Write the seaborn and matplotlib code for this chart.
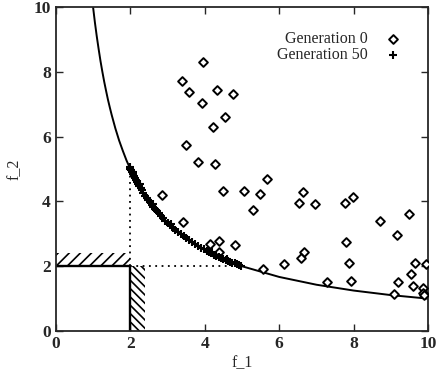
import matplotlib
matplotlib.use("Agg")
import matplotlib.pyplot as plt
import seaborn as sns
import pandas as pd
from matplotlib.patches import Rectangle

# === Datos ===
gen0_f1 = [3.96, 3.39, 3.57, 4.34, 4.75, 3.92, 4.55, 4.23, 3.49, 3.82, 4.28,
           5.66, 2.86, 4.49, 5.05, 5.48, 5.30, 3.42, 4.37, 4.14, 4.81, 4.37,
           5.56, 6.63, 6.54, 6.96, 7.76, 7.98, 8.71, 9.48, 9.17, 7.80, 6.67,
           6.59, 7.87, 6.13, 9.66, 9.94, 9.53, 7.27, 7.92, 9.18, 9.58, 9.85,
           9.08, 9.85, 9.90]
gen0_f2 = [8.29, 7.72, 7.38, 7.44, 7.31, 7.03, 6.60, 6.30, 5.74, 5.22, 5.14,
           4.68, 4.19, 4.33, 4.33, 4.22, 3.73, 3.35, 2.79, 2.68, 2.65, 2.45,
           1.91, 4.28, 3.95, 3.93, 3.95, 4.15, 3.40, 3.61, 2.97, 2.75, 2.44,
           2.25, 2.09, 2.08, 2.10, 2.07, 1.75, 1.52, 1.55, 1.50, 1.38, 1.34,
           1.13, 1.18, 1.10]

gen50_f1 = [1.98, 2.00, 2.02, 2.04, 2.05, 2.07, 2.10, 2.12, 2.15, 2.18, 2.20,
            2.24, 2.28, 2.31, 2.35, 2.40, 2.44, 2.48, 2.52, 2.57, 2.62, 2.66,
            2.71, 2.76, 2.82, 2.88, 2.94, 3.00, 3.07, 3.14, 3.20, 3.28, 3.35,
            3.43, 3.50, 3.58, 3.66, 3.74, 3.82, 3.90, 3.98, 4.05, 4.12, 4.18,
            4.25, 4.31, 4.38, 4.44, 4.50, 4.56, 4.62, 4.68, 4.74, 4.80, 4.86,
            4.92, 4.98, 2.08, 2.25, 2.60, 3.10, 4.20, 4.60]
gen50_f2 = [5.05, 5.00, 4.96, 4.92, 4.90, 4.85, 4.78, 4.73, 4.66, 4.60, 4.55,
            4.48, 4.40, 4.34, 4.27, 4.18, 4.11, 4.04, 3.97, 3.90, 3.83, 3.77,
            3.70, 3.63, 3.56, 3.48, 3.41, 3.34, 3.27, 3.19, 3.13, 3.06, 2.99,
            2.92, 2.86, 2.80, 2.74, 2.68, 2.62, 2.57, 2.52, 2.47, 2.43, 2.40,
            2.36, 2.33, 2.29, 2.26, 2.23, 2.20, 2.17, 2.14, 2.11, 2.09, 2.06,
            2.04, 2.01, 4.90, 4.55, 3.92, 3.30, 2.45, 2.23]

# Frente de Pareto (f2 = 10/f1), valores tabulados
front_f1 = [1.0, 1.05, 1.1, 1.15, 1.2, 1.25, 1.3, 1.35, 1.4, 1.45, 1.5, 1.6,
            1.7, 1.8, 1.9, 2.0, 2.25, 2.5, 2.75, 3.0, 3.5, 4.0, 4.5, 5.0,
            6.0, 7.0, 8.0, 9.0, 10.0]
front_f2 = [10.0, 9.52, 9.09, 8.70, 8.33, 8.00, 7.69, 7.41, 7.14, 6.90, 6.67,
            6.25, 5.88, 5.56, 5.26, 5.00, 4.44, 4.00, 3.64, 3.33, 2.86, 2.50,
            2.22, 2.00, 1.67, 1.43, 1.25, 1.11, 1.00]

ref_point = [2, 2]
ref_end = [5, 5]
ticks = [0, 2, 4, 6, 8, 10]

gen0 = pd.DataFrame({"f_1": gen0_f1, "f_2": gen0_f2})
gen50 = pd.DataFrame({"f_1": gen50_f1, "f_2": gen50_f2})

# === Estilo ===
sns.set_style("ticks")
plt.rcParams["font.family"] = ["Liberation Serif", "DejaVu Serif"]
plt.rcParams["hatch.linewidth"] = 1.2

fig = plt.figure(figsize=(4.36, 3.81), dpi=100)
ax = fig.add_axes([0.128, 0.131, 0.854, 0.851])

# curva
sns.lineplot(x=front_f1, y=front_f2, color="black", linewidth=1.4, ax=ax,
             legend=False)

# caja de referencia y zonas sombreadas
ax.plot([0, ref_point[0]], [ref_point[1], ref_point[1]], color="black", lw=1.7)
ax.plot([ref_point[0], ref_point[0]], [0, ref_point[1]], color="black", lw=1.7)
ax.plot([ref_point[0], ref_point[0]], [ref_point[1], ref_end[1]],
        color="black", lw=1.3, linestyle=(0, (1, 2.5)))
ax.plot([ref_point[0], ref_end[0]], [ref_point[1], ref_point[1]],
        color="black", lw=1.3, linestyle=(0, (1, 2.5)))
ax.add_patch(Rectangle((0, ref_point[1]), ref_point[0], 0.4, fill=False,
                       hatch="///", edgecolor="black", linewidth=0))
ax.add_patch(Rectangle((ref_point[0], 0), 0.4, ref_point[1], fill=False,
                       hatch="\\\\\\\\", edgecolor="black", linewidth=0))

# puntos
sns.scatterplot(data=gen0, x="f_1", y="f_2", marker="D", s=20,
                facecolor="white", edgecolor="black", linewidth=1.4,
                label="Generation 0", zorder=4, ax=ax)
sns.scatterplot(data=gen50, x="f_1", y="f_2", marker="+", s=32,
                color="black", linewidth=1.5, label="Generation 50",
                zorder=5, ax=ax)

ax.set_xlim(0, 10)
ax.set_ylim(0, 10)
ax.set_xticks(ticks)
ax.set_yticks(ticks)
ax.set_xlabel("f_1", fontsize=11.5, labelpad=2)
ax.set_ylabel("f_2", fontsize=11.5, labelpad=8)
ax.tick_params(direction="in", length=5, width=1, top=True, right=True,
               labelsize=12.5)
for lab in ax.get_xticklabels() + ax.get_yticklabels():
    lab.set_fontweight("bold")
for sp in ax.spines.values():
    sp.set_linewidth(1.3)

ax.legend(loc="upper right", frameon=False, markerfirst=False, fontsize=11.5,
          handletextpad=0.9, borderaxespad=1.1, labelspacing=0.0,
          handlelength=1.4)

plt.savefig("out.png", dpi=100)
